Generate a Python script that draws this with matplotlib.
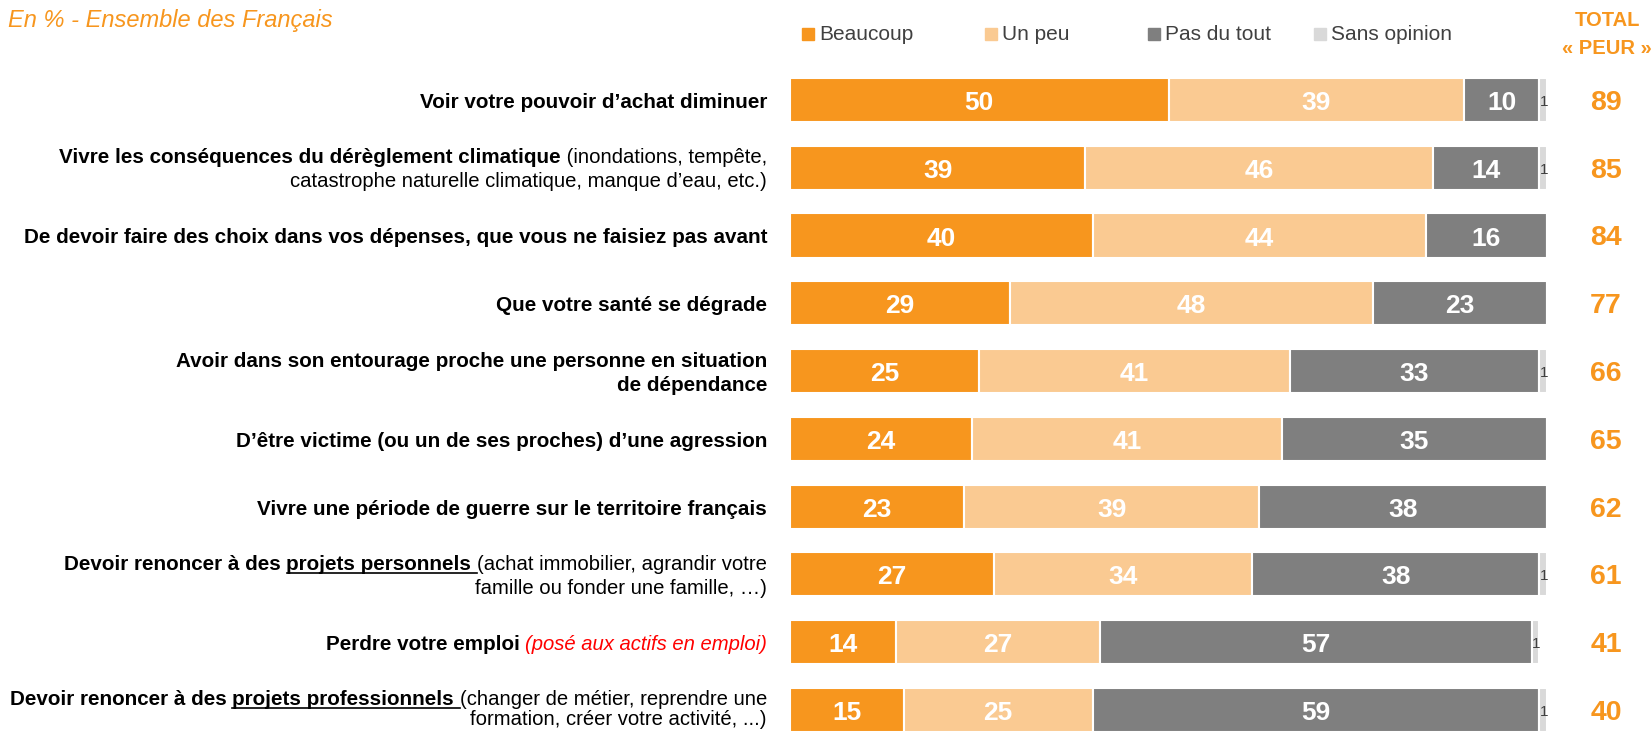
import re
import matplotlib
matplotlib.use("Agg")
import matplotlib.pyplot as plt
from matplotlib import font_manager
from matplotlib.patches import Rectangle
from matplotlib.lines import Line2D

# ---- data ----
labels = [
    "**Voir votre pouvoir d’achat diminuer**",
    "**Vivre les conséquences du dérèglement climatique** (inondations, tempête,\ncatastrophe naturelle climatique, manque d’eau, etc.)",
    "**De devoir faire des choix dans vos dépenses, que vous ne faisiez pas avant**",
    "**Que votre santé se dégrade**",
    "**Avoir dans son entourage proche une personne en situation\nde dépendance**",
    "**D’être victime (ou un de ses proches) d’une agression**",
    "**Vivre une période de guerre sur le territoire français**",
    "**Devoir renoncer à des __projets personnels __**(achat immobilier, agrandir votre\nfamille ou fonder une famille, …)",
    "**Perdre votre emploi** ~~(posé aux actifs en emploi)~~",
    "**Devoir renoncer à des __projets professionnels __**(changer de métier, reprendre une\nformation, créer votre activité, ...)",
]
beaucoup = [50, 39, 40, 29, 25, 24, 23, 27, 14, 15]
un_peu = [39, 46, 44, 48, 41, 41, 39, 34, 27, 25]
pas_du_tout = [10, 14, 16, 23, 33, 35, 38, 38, 57, 59]
sans_opinion = [1, 1, 0, 0, 1, 0, 0, 1, 1, 1]
total_peur = [89, 85, 84, 77, 66, 65, 62, 61, 41, 40]
series_names = ["Beaucoup", "Un peu", "Pas du tout", "Sans opinion"]
colors = ["#F7961E", "#FACA92", "#7F7F7F", "#D9D9D9"]

ORANGE = "#F7961E"

names = {f.name for f in font_manager.fontManager.ttflist}
FAM = "Liberation Sans Narrow" if "Liberation Sans Narrow" in names else "Liberation Sans"
plt.rcParams["font.family"] = [FAM, "DejaVu Sans"]

W, H = 1652, 731
fig = plt.figure(figsize=(W / 100, H / 100), dpi=100)
ax = fig.add_axes([790 / W, 0, 757 / W, 665 / H])
n = len(labels)
ax.set_xlim(0, 100)
ax.set_ylim(9.31, -0.5)
ax.axis("off")

series = [beaucoup, un_peu, pas_du_tout, sans_opinion]
ys = list(range(n))
left = [0] * n
for vals, col in zip(series, colors):
    ax.barh(ys, vals, left=left, height=0.65, color=col, edgecolor="white", linewidth=1.5)
    left = [l + v for l, v in zip(left, vals)]

for i in range(n):
    x0 = 0
    for j, vals in enumerate(series):
        v = vals[i]
        if v == 0:
            continue
        if j < 3:
            ax.text(x0 + v / 2, i + 0.045, str(v), ha="center", va="center", color="white",
                    fontsize=19, fontweight="bold")
        else:
            ax.text(x0 + v / 2 + 0.1, i + 0.03, str(v), ha="center", va="center",
                    color="#404040", fontsize=11)
        x0 += v

# totals column
for i in range(n):
    _, yd = ax.transData.transform((0, i))
    fig.text(1606 / W, (yd - 3) / H, str(total_peur[i]), ha="center", va="center",
             color=ORANGE, fontsize=20.5, fontweight="bold")

# header
fig.text(8 / W, 1 - 21 / H, "En % - Ensemble des Français", color=ORANGE, fontsize=17,
         style="italic", va="center", ha="left")
fig.text(1607 / W, 1 - 20 / H, "TOTAL", color=ORANGE, fontsize=14.5, fontweight="bold",
         ha="center", va="center")
fig.text(1607 / W, 1 - 49 / H, "« PEUR »", color=ORANGE, fontsize=14.5, fontweight="bold",
         ha="center", va="center")

# legend
leg_x = [802, 985, 1148, 1314]
for name, col, lx in zip(series_names, colors, leg_x):
    fig.add_artist(Rectangle((lx / W, 1 - 40 / H), 12 / W, 12 / H, color=col,
                             transform=fig.transFigure))
    fig.text((lx + 17) / W, 1 - 35 / H, name, color="#404040", fontsize=15,
             ha="left", va="center")


# rich-text labels: ** bold, __ underline, ~~ red italic
def parse(s):
    segs = []
    bold = under = red = False
    for tok in re.split(r"(\*\*|__|~~|\n)", s):
        if tok == "**":
            bold = not bold
        elif tok == "__":
            under = not under
        elif tok == "~~":
            red = not red
        elif tok == "\n":
            segs.append(None)
        elif tok:
            segs.append((tok, bold, under, red))
    lines = [[]]
    for sg in segs:
        if sg is None:
            lines.append([])
        else:
            lines[-1].append(sg)
    return lines


fig.canvas.draw()
renderer = fig.canvas.get_renderer()
RIGHT = 767
for i, lab in enumerate(labels):
    lines = parse(lab)
    _, yc = ax.transData.transform((0, i))
    if len(lines) == 1:
        bases = [yc - 8]
    else:
        bases = [yc + 12 - 7.5, max(yc - 12 - 7.5, 6)]
    for line, yb in zip(lines, bases):
        xr = RIGHT
        for txt, bold, under, red in reversed(line):
            t = fig.text(xr / W, yb / H, txt, ha="right", va="baseline",
                         fontsize=14.9 if bold else 14.6,
                         fontweight="bold" if bold else "normal",
                         style="italic" if red else "normal",
                         color="#FF0000" if red else "black")
            w = t.get_window_extent(renderer).width
            if under:
                fig.add_artist(Line2D([(xr - w) / W, xr / W], [(yb - 3) / H, (yb - 3) / H],
                                      color="black", linewidth=1.2, transform=fig.transFigure))
            xr -= w

fig.savefig("out.png", dpi=100)
